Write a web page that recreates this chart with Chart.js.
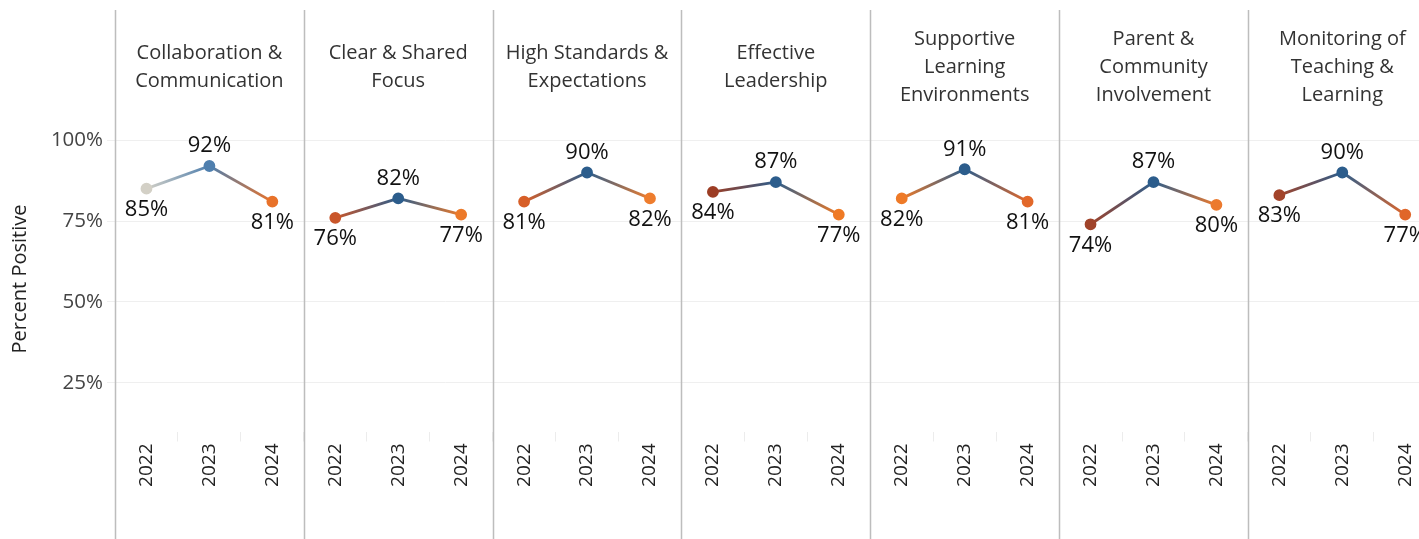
<!DOCTYPE html>
<html>
<head>
<meta charset="utf-8">
<script src="https://cdn.jsdelivr.net/npm/chart.js@4"></script>
<style>
  html, body { margin: 0; padding: 0; background: #fff; overflow: hidden; }
  #wrap { width: 1444px; height: 539px; position: relative; }
</style>
</head>
<body>
<div id="wrap"><canvas id="c"></canvas></div>
<script>
// ---- data ----
const panels = [
  ["Collaboration &", "Communication"],
  ["Clear & Shared", "Focus"],
  ["High Standards &", "Expectations"],
  ["Effective", "Leadership"],
  ["Supportive", "Learning", "Environments"],
  ["Parent &", "Community", "Involvement"],
  ["Monitoring of", "Teaching &", "Learning"]
];
const years = ["2022", "2023", "2024"];
const collaboration = [85, 92, 81];
const clearFocus = [76, 82, 77];
const highStandards = [81, 90, 82];
const effectiveLeadership = [84, 87, 77];
const supportiveEnv = [82, 91, 81];
const parentCommunity = [74, 87, 80];
const monitoring = [83, 90, 77];
const yTicks = [25, 50, 75, 100];

// ---- styles ----
const pointColors = [
  ["#d3d0c6", "#4f7fae", "#e8722a"],
  ["#c9562a", "#2c5d8c", "#ec7a2a"],
  ["#d75f28", "#2c5d8c", "#ee7d2e"],
  ["#9c3d24", "#2c5d8c", "#ef7a25"],
  ["#ee7a28", "#2c5d8c", "#e2682a"],
  ["#a0432a", "#2c5d8c", "#ec7a2e"],
  ["#a3442a", "#2c5d8c", "#e0662a"]
];
const FONT = "'Open Sans', sans-serif";

const series = [collaboration, clearFocus, highStandards, effectiveLeadership, supportiveEnv, parentCommunity, monitoring];
const labels = [];
panels.forEach(() => years.forEach(y => labels.push(y)));
const N = labels.length;

const datasets = series.map((vals, i) => {
  const data = new Array(N).fill(null);
  const pc = new Array(N).fill("transparent");
  vals.forEach((v, j) => { data[i * 3 + j] = v; pc[i * 3 + j] = pointColors[i][j]; });
  return {
    data,
    pointBackgroundColor: pc,
    pointBorderColor: pc,
    pointRadius: 4.5,
    pointHoverRadius: 4.5,
    borderWidth: 2.8,
    spanGaps: false,
    segment: {
      borderColor: (ctx) => {
        const c = ctx.chart.ctx;
        const g = c.createLinearGradient(ctx.p0.x, ctx.p0.y, ctx.p1.x, ctx.p1.y);
        g.addColorStop(0, pc[ctx.p0DataIndex]);
        g.addColorStop(1, pc[ctx.p1DataIndex]);
        return g;
      }
    }
  };
});

const decorations = {
  id: "decorations",
  beforeDatasetsDraw(chart) {
    const { ctx, chartArea } = chart;
    const pw = (chartArea.right - chartArea.left) / panels.length;
    ctx.save();
    ctx.strokeStyle = "#bdbdbd";
    ctx.lineWidth = 1.5;
    for (let i = 0; i <= panels.length; i++) {
      const x = Math.round(chartArea.left + i * pw) + 0.5;
      ctx.beginPath();
      ctx.moveTo(x, 10);
      ctx.lineTo(x, chart.height);
      ctx.stroke();
    }
    // headers
    ctx.fillStyle = "#333";
    ctx.font = "20px " + FONT;
    ctx.textAlign = "center";
    ctx.textBaseline = "middle";
    panels.forEach((lines, i) => {
      const cx = chartArea.left + (i + 0.5) * pw;
      const lh = 28;
      const y0 = 67 - (lines.length - 1) * lh / 2;
      lines.forEach((t, k) => ctx.fillText(t, cx, y0 + k * lh));
    });
    ctx.restore();
  },
  afterDatasetsDraw(chart) {
    const { ctx } = chart;
    ctx.save();
    ctx.fillStyle = "#111";
    ctx.font = "22px " + FONT;
    ctx.textAlign = "center";
    ctx.textBaseline = "middle";
    chart.data.datasets.forEach((ds, di) => {
      const meta = chart.getDatasetMeta(di);
      ds.data.forEach((v, idx) => {
        if (v === null) return;
        const p = meta.data[idx];
        const above = (idx % 3) === 1;
        ctx.fillText(v + "%", p.x, p.y + (above ? -20 : 21));
      });
    });
    ctx.restore();
  }
};

new Chart(document.getElementById("c"), {
  type: "line",
  data: { labels, datasets },
  options: {
    responsive: true,
    maintainAspectRatio: false,
    animation: false,
    layout: { padding: { top: 126.5, left: 0, right: 2, bottom: 0 } },
    plugins: { legend: { display: false }, tooltip: { enabled: false } },
    scales: {
      x: {
        type: "category",
        offset: true,
        grid: { offset: true, drawOnChartArea: false, color: "#ececec", tickLength: 10 },
        border: { display: false },
        ticks: { autoSkip: false, minRotation: 90, maxRotation: 90, padding: 2, color: "#222", font: { family: FONT, size: 19 } },
        afterFit(scale) { scale.height = 107.5; }
      },
      y: {
        min: 10,
        max: 104.2,
        afterBuildTicks(scale) { scale.ticks = yTicks.map(v => ({ value: v })); },
        grid: { color: "#efefef", tickLength: 8 },
        border: { display: false },
        ticks: { padding: 4, color: "#444", font: { family: FONT, size: 20.5 }, callback: v => v + "%" },
        title: { display: true, text: "Percent Positive", color: "#222", font: { family: FONT, size: 20 }, padding: { top: 8, bottom: 0 } },
        afterFit(scale) { scale.width = 115; }
      }
    }
  },
  plugins: [decorations]
});
</script>
</body>
</html>
